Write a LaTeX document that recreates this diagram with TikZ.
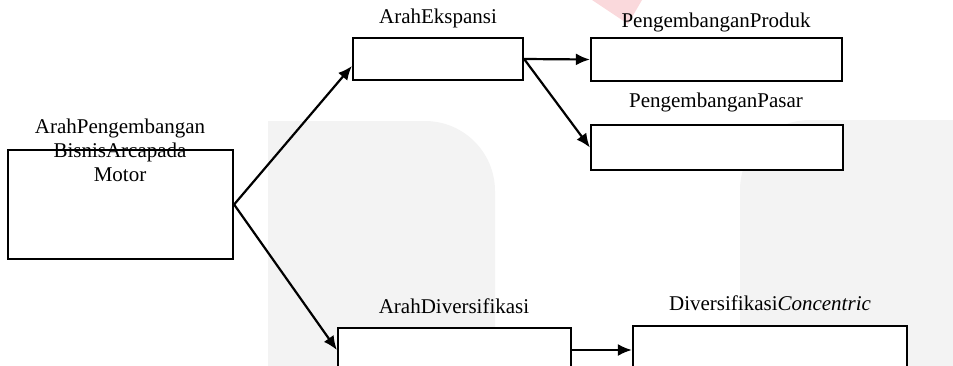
\documentclass[tikz,border=0pt]{standalone}
\usepackage{fontspec}
\setmainfont{Liberation Serif}
\usetikzlibrary{arrows.meta}
\definecolor{wm}{HTML}{F3F3F3}
\definecolor{wmred}{HTML}{FAD9DC}
\tikzset{
  box/.style={draw=black, fill=white, line width=2.2pt, rectangle, inner sep=0pt},
  lbl/.style={inner sep=0pt, font=\fontsize{21}{24}\selectfont, align=center},
  conn/.style={line width=2.2pt, -{Latex[length=14pt,width=12pt]}},
}
\begin{document}
\begin{tikzpicture}[x=1pt,y=-1pt]
\useasboundingbox (0,0) rectangle (953,365);
% watermark background
\fill[wm] (268,400) -- (268,121) -- (425,121) arc[start angle=90,end angle=0,radius=70pt] -- (495,400) -- cycle;
\fill[wm] (740,400) -- (740,190) arc[start angle=180,end angle=90,radius=70pt] -- (960,120) -- (960,400) -- cycle;
\fill[wmred] (592,0) -- (642,0) -- (628,24) -- cycle;
% boxes
\node[box, minimum width=225pt, minimum height=109pt] (main) at (120.5,204.5) {};
\node[box, minimum width=170pt, minimum height=42pt] (eks) at (438,59) {};
\node[box, minimum width=251pt, minimum height=43pt] (prod) at (716.5,59.5) {};
\node[box, minimum width=252pt, minimum height=45pt] (pasar) at (717,147.5) {};
\node[box, minimum width=233pt, minimum height=44pt] (div) at (454.5,350) {};
\node[box, minimum width=274pt, minimum height=48pt] (conc) at (770,350) {};
% labels
\node[lbl] (lmain) at (120,150) {ArahPengembangan\\BisnisArcapada\\Motor};
\node[lbl] (leks) at (438,18) {ArahEkspansi};
\node[lbl] (lprod) at (716,22) {PengembanganProduk};
\node[lbl] (lpasar) at (716,102) {PengembanganPasar};
\node[lbl] (ldiv) at (454,306) {ArahDiversifikasi};
\node[lbl] (lconc) at (770,303) {Diversifikasi\textit{Concentric}};
% connectors
\draw[conn] (main.east) -- ([yshift=-7pt]eks.west);
\draw[conn] (main.east) -- (div.west);
\draw[conn] (eks.east) -- (prod.west);
\draw[conn] (eks.east) -- (pasar.west);
\draw[conn] (div.east) -- (div.east -| conc.west);
\end{tikzpicture}
\end{document}
